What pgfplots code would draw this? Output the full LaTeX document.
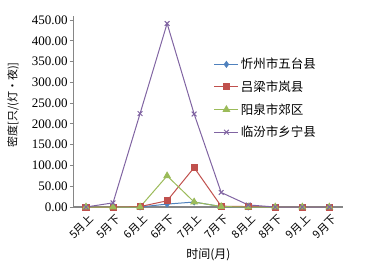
\documentclass[border=0pt]{standalone}
\usepackage{fontspec}
\setmainfont{Liberation Serif}
\newfontfamily\cjk{Noto Sans CJK SC}
\usepackage{pgfplots}
\pgfplotsset{compat=1.18}
\definecolor{cblue}{HTML}{4F81BD}
\definecolor{cred}{HTML}{C0504D}
\definecolor{cgreen}{HTML}{9BBB59}
\definecolor{cpurple}{HTML}{8064A2}
\definecolor{axgrey}{HTML}{868686}
\begin{document}
\begin{tikzpicture}[x=1pt,y=1pt]
\useasboundingbox (-86,-61) rectangle (294,207);
\begin{axis}[
  at={(0,0)}, anchor=origin,
  scale only axis, width=269pt, height=191pt,
  xmin=-0.45, xmax=9.5, ymin=0, ymax=460,
  axis x line=bottom, axis y line=left,
  axis line style={axgrey, line width=1.3pt, -},
  xtick={0,...,9},
  xticklabels={5月上,5月下,6月上,6月下,7月上,7月下,8月上,8月下,9月上,9月下},
  xticklabel style={font=\cjk\fontsize{11}{11}\selectfont, rotate=45, anchor=north east, inner sep=1pt, xshift=1pt, yshift=-2pt},
  x tick style={draw=none},
  ytick={0,50,...,450},
  y tick style={axgrey, line width=1pt},
  major tick length=4pt,
  tick align=outside,
  yticklabel style={font=\fontsize{13}{13}\selectfont, inner sep=2pt},
  /pgf/number format/.cd, fixed, fixed zerofill, precision=2, assume math mode=true,
  /pgfplots/.cd,
  xlabel={\cjk 时间(月)},
  xlabel style={font=\fontsize{12}{12}\selectfont, at={(axis description cs:0.5,-0.25)}, anchor=center},
  legend style={at={(0.52,0.79)}, anchor=north west, draw=none, fill=none,
    font=\cjk\fontsize{12.5}{12.5}\selectfont, row sep=6.5pt, inner sep=0pt},
  legend cell align=left,
  legend image code/.code={\draw[#1] (0pt,0pt) -- (12pt,0pt) plot coordinates {(12pt,0pt)} -- (24pt,0pt);},
  clip=false,
]
\addplot[cblue, line width=1pt, mark=diamond*, mark size=2.8pt] coordinates {(0,0) (1,0) (2,0) (3,7) (4,12) (5,1) (6,0) (7,0) (8,0) (9,0)};
\addlegendentry{忻州市五台县}
\addplot[cred, line width=1pt, mark=square*, mark size=3pt] coordinates {(0,0) (1,0) (2,1) (3,15) (4,95) (5,2) (6,1) (7,0) (8,0) (9,0)};
\addlegendentry{吕梁市岚县}
\addplot[cgreen, line width=1pt, mark=triangle*, mark size=3.6pt] coordinates {(0,0) (1,0) (2,0) (3,75) (4,12) (5,1) (6,0) (7,0) (8,0) (9,0)};
\addlegendentry{阳泉市郊区}
\addplot[cpurple, line width=1pt, mark=x, mark size=3.3pt] coordinates {(0,0) (1,10) (2,225) (3,442) (4,224) (5,35) (6,5) (7,0) (8,0) (9,0)};
\addlegendentry{临汾市乡宁县}
\end{axis}
\node[rotate=90, anchor=center, font=\cjk\fontsize{11}{11}\selectfont, inner sep=0pt] at (-73,102) {密度[只/(灯·夜)]};
\end{tikzpicture}
\end{document}
